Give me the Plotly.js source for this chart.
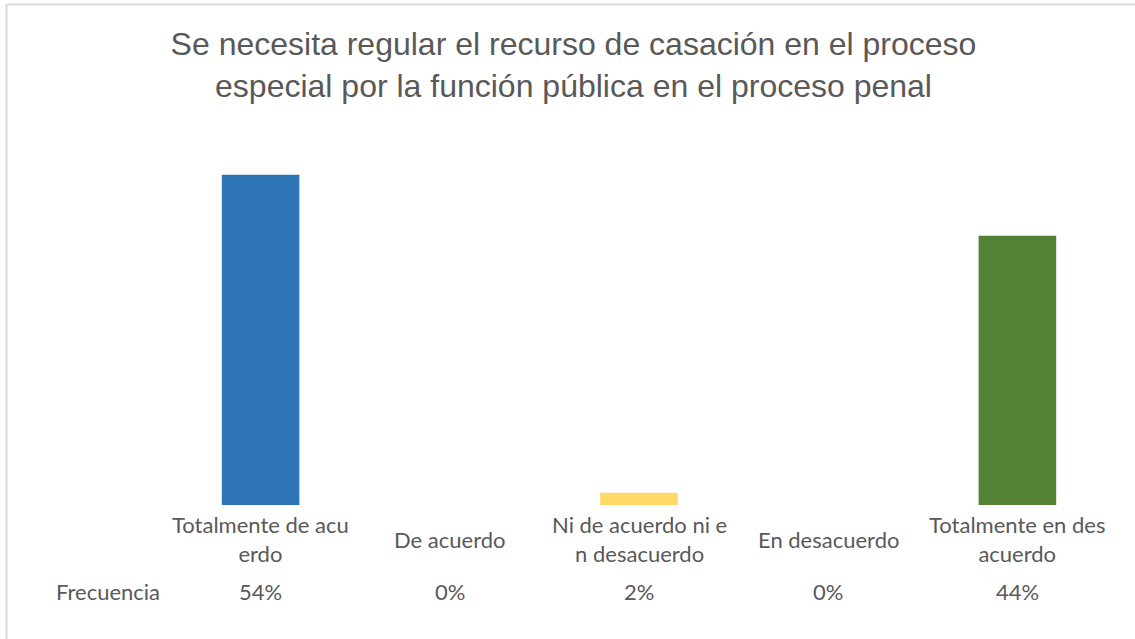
<!DOCTYPE html>
<html>
<head>
<meta charset="utf-8">
<script src="https://cdn.plot.ly/plotly-3.0.1.min.js"></script>
<style>html,body{margin:0;padding:0;background:#fff;}#chart{width:1135px;height:639px;}</style>
</head>
<body>
<div id="chart"></div>
<script>
const categories = ["Totalmente de acuerdo", "De acuerdo", "Ni de acuerdo ni en desacuerdo", "En desacuerdo", "Totalmente en desacuerdo"];
const categoryLabels = ["Totalmente de acu<br>erdo", "De acuerdo", "Ni de acuerdo ni e<br>n desacuerdo", "En desacuerdo", "Totalmente en des<br>acuerdo"];
const frecuencia = [0.54, 0.00, 0.02, 0.00, 0.44];
const frecuenciaLabels = ["54%", "0%", "2%", "0%", "44%"];
const seriesName = "Frecuencia";
const barColors = ["#2E75B6", "#4472C4", "#FFD966", "#A5A5A5", "#548235"];
const titleText = "Se necesita regular el recurso de casación en el proceso<br>especial por la función pública en el proceso penal";

const W = 1135, H = 639;
const mL = 166, mR = 23, mT = 138, mB = 134;
const plotW = W - mL - mR, plotH = H - mT - mB;
const px2x = p => (p - mL) / plotW;
const py2y = p => (H - mB - p) / plotH;

const labelFont = {family: "Lato, 'Noto Sans', sans-serif", size: 22, color: "#595959"};

const annotations = [];
categories.forEach((c, i) => {
  annotations.push({x: c, xref: "x", y: py2y(539), yref: "paper", text: categoryLabels[i],
    showarrow: false, xanchor: "center", yanchor: "middle", font: labelFont});
  annotations.push({x: c, xref: "x", y: py2y(591), yref: "paper", text: frecuenciaLabels[i],
    showarrow: false, xanchor: "center", yanchor: "middle", font: labelFont});
});
annotations.push({x: px2x(54), xref: "paper", y: py2y(591), yref: "paper", text: seriesName,
  showarrow: false, xanchor: "left", yanchor: "middle", font: labelFont});

const data = [{
  type: "bar",
  x: categories,
  y: frecuencia,
  name: seriesName,
  marker: {color: barColors},
  width: 0.41,
  hoverinfo: "x+y"
}];

const layout = {
  width: W, height: H,
  margin: {l: mL, r: mR, t: mT, b: mB},
  paper_bgcolor: "#ffffff",
  plot_bgcolor: "#ffffff",
  showlegend: false,
  title: {text: titleText, x: 573.5 / W, xref: "container", xanchor: "center",
    y: 1 - 55 / H, yref: "container", yanchor: "middle",
    font: {family: "'Liberation Sans', Arial, sans-serif", size: 32, color: "#595959"}},
  xaxis: {type: "category", range: [-0.5, 4.5], showticklabels: false, showline: false,
    showgrid: false, zeroline: false, ticks: ""},
  yaxis: {range: [0, 0.6], visible: false, showgrid: false, zeroline: false},
  annotations: annotations,
  shapes: [
    {type: "line", xref: "paper", yref: "paper", x0: px2x(6), x1: px2x(1135), y0: py2y(4.5), y1: py2y(4.5),
      line: {color: "#D9D9D9", width: 2}},
    {type: "line", xref: "paper", yref: "paper", x0: px2x(6.5), x1: px2x(6.5), y0: py2y(4), y1: py2y(639),
      line: {color: "#D9D9D9", width: 2}}
  ]
};

Plotly.newPlot("chart", data, layout, {displayModeBar: false, staticPlot: true});
</script>
</body>
</html>
